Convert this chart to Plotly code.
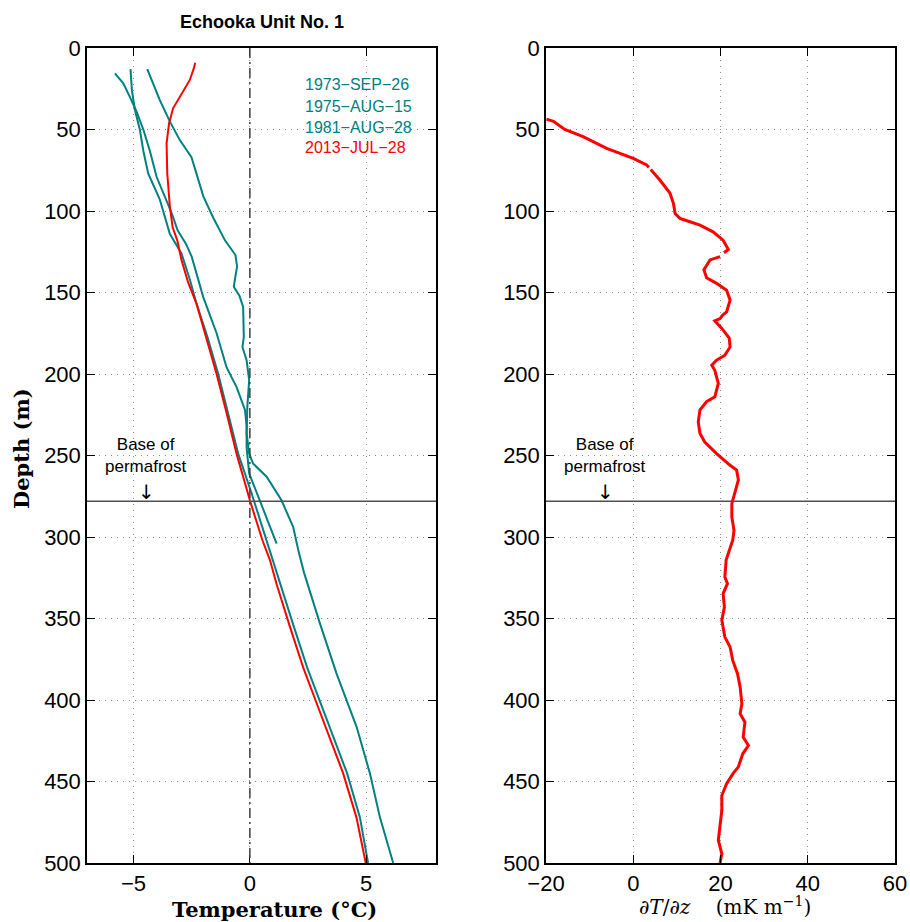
import plotly.graph_objects as go

# ---- temperature profiles, Echooka Unit No. 1 (depth in m, temperature in deg C) ----
depth_1973 = [13, 19.6, 32, 45, 56.5, 67, 77, 91, 104, 118, 127, 134, 140, 146.5, 152, 158.8, 177.2,
              183.4, 191.5, 203.8, 220.2, 236.5, 248.8, 255, 263, 277.5, 293.8, 308, 322, 353, 384,
              416.6, 445, 472, 500]
temp_1973 = [-4.41, -4.23, -3.87, -3.44, -3.01, -2.51, -2.29, -2.0, -1.58, -1.07, -0.62, -0.55, -0.62,
             -0.69, -0.45, -0.29, -0.26, -0.32, -0.14, -0.03, -0.11, -0.14, -0.03, 0.14, 0.72, 1.36,
             1.86, 2.08, 2.33, 3.01, 3.73, 4.59, 5.16, 5.59, 6.16]

depth_1975 = [15.5, 21.7, 30, 39, 50, 63, 79, 101, 112, 120, 128, 138, 153, 175, 196, 208, 222, 232,
              245, 261, 273, 288, 304]
temp_1975 = [-5.80, -5.44, -5.16, -4.87, -4.58, -4.30, -4.01, -3.37, -3.10, -2.75, -2.50, -2.29, -2.0,
             -1.43, -1.0, -0.57, -0.21, -0.14, -0.14, -0.03, 0.29, 0.72, 1.15]

depth_1981 = [13, 26, 38, 50, 63, 77, 93, 114, 126, 142, 157, 177, 200, 224, 249, 273, 298, 329, 355,
              380, 402, 423, 445, 472, 500]
temp_1981 = [-5.13, -5.07, -4.94, -4.73, -4.58, -4.37, -3.87, -3.44, -2.94, -2.58, -2.29, -1.83, -1.36,
             -0.93, -0.50, 0.07, 0.62, 1.32, 1.89, 2.46, 3.04, 3.61, 4.18, 4.73, 5.08]

depth_2013 = [9, 12.5, 19.6, 30, 37, 46, 58.5, 77, 97, 110, 118, 130, 144, 157, 179, 200, 224, 249,
              277.5, 302, 314, 329, 355, 380, 402, 423, 445, 472, 500]
temp_2013 = [-2.35, -2.41, -2.58, -3.01, -3.30, -3.47, -3.58, -3.55, -3.44, -3.32, -3.12, -2.94, -2.65,
             -2.29, -1.86, -1.43, -1.0, -0.57, 0.0, 0.54, 0.86, 1.15, 1.72, 2.29, 2.87, 3.44, 4.01,
             4.58, 4.98]

# ---- 2013 temperature gradient (mK/m); None marks short gaps in the log ----
grad_depth = [43.6, 45, 50, 54.4, 61.6, 67.7, 71.8, 73.2, None, 74.6, 76, 81, 89, 95.3, 101.5, 104.5,
              106.6, 108.7, 112.8, 117.9, 123.6, 125.6, None, 128, 130, 136, 141, 144.4, 148.6, 154.7,
              161.9, 163.9, 166, 167.4, 172, 178, 183.4, 188.5, 191.5, 194.6, 197.7, 205.8, 214, 217,
              222, 229.4, 236.5, 241.7, 248.8, 256, 259, 265, 273.4, 279.5, 287.7, 296, 302, 308, 314,
              324.6, 328.6, 334.7, 343, 351, 361.4, 367.5, 375.7, 383.9, 392, 402.3, 408.4, 413.6,
              422.8, 427.9, 433, 441, 445, 451.4, 458.6, 467.8, 476, 486, 494.4, 500]
grad_value = [-19.9, -18.3, -15.7, -11.5, -6.1, 0, 3.07, 3.6, None, 4.0, 4.5, 6.1, 8.4, 9.2, 9.6, 10.7,
              13.0, 15.3, 18.3, 20.6, 21.8, 20.8, None, 19.9, 17.6, 16.2, 16.8, 19.1, 21.4, 22.2,
              21.4, 20.5, 19.9, 18.7, 20.3, 22.0, 22.2, 21.0, 19.1, 18.0, 18.7, 19.5, 18.7, 16.8,
              15.3, 14.9, 15.3, 16.4, 19.1, 22.2, 23.7, 24.1, 23.3, 22.6, 22.6, 23.1, 22.8, 22.0, 21.3,
              21.0, 21.6, 20.6, 20.9, 20.3, 21.0, 22.2, 22.8, 23.9, 24.5, 24.9, 24.5, 25.6,
              25.2, 26.4, 25.1, 24.1, 22.9, 21.4, 20.3, 20.3, 20.0, 19.5, 20.3, 19.9]

legend_labels = ["1973\u2212SEP\u221226", "1975\u2212AUG\u221215", "1981\u2212AUG\u221228", "2013\u2212JUL\u221228"]
permafrost_base = 278
depth_ticks = list(range(0, 501, 50))
temp_ticks = [-5, 0, 5]
grad_ticks = [-20, 0, 20, 40, 60]

TEAL = "#008080"
RED = "#ff0000"
W, H = 910, 922
SANS = "Liberation Sans, Arial, sans-serif"

fig = go.Figure()
for d, t, c in [(depth_1973, temp_1973, TEAL), (depth_1975, temp_1975, TEAL),
                (depth_1981, temp_1981, TEAL), (depth_2013, temp_2013, RED)]:
    fig.add_trace(go.Scatter(x=t, y=d, mode="lines", line=dict(color=c, width=2),
                             xaxis="x", yaxis="y", showlegend=False, hoverinfo="skip"))
fig.add_trace(go.Scatter(x=grad_value, y=grad_depth, mode="lines", connectgaps=False,
                         line=dict(color=RED, width=3), xaxis="x2", yaxis="y2",
                         showlegend=False, hoverinfo="skip"))

tickfont = dict(family=SANS, size=22, color="black")
ydom = [(H - 863) / H, (H - 48) / H]
common_ax = dict(showline=True, linecolor="black", linewidth=1.5, mirror="ticks", ticks="inside",
                 ticklen=8, tickwidth=1, tickcolor="black", showgrid=True, gridcolor="#8c8c8c",
                 gridwidth=1, griddash="1px,5px", zeroline=False, tickfont=tickfont, automargin=False)

fig.update_layout(
    width=W, height=H, margin=dict(l=0, r=0, t=0, b=0),
    paper_bgcolor="white", plot_bgcolor="white",
    xaxis=dict(domain=[87 / W, 436 / W], range=[-7, 8], tickvals=temp_ticks, anchor="y", **common_ax),
    yaxis=dict(domain=ydom, range=[500, 0], tickvals=depth_ticks, anchor="x", **common_ax),
    xaxis2=dict(domain=[546 / W, 895 / W], range=[-20, 60], tickvals=grad_ticks, anchor="y2", **common_ax),
    yaxis2=dict(domain=ydom, range=[500, 0], tickvals=depth_ticks, anchor="x2", **common_ax),
)

shapes = [
    dict(type="line", xref="x", yref="y", x0=0, x1=0, y0=0, y1=500,
         line=dict(color="#404040", width=1.5, dash="10px,4px,2px,4px")),
    dict(type="line", xref="x domain", yref="y", x0=0, x1=1, y0=permafrost_base, y1=permafrost_base,
         line=dict(color="#505050", width=1.5)),
    dict(type="line", xref="x2 domain", yref="y2", x0=0, x1=1, y0=permafrost_base, y1=permafrost_base,
         line=dict(color="#505050", width=1.5)),
]
fig.update_layout(shapes=shapes)

ann = []
ann.append(dict(text="<b>Echooka Unit No. 1</b>", xref="paper", yref="paper", x=262 / W, y=(H - 22) / H,
                showarrow=False, xanchor="center", yanchor="middle",
                font=dict(family=SANS, size=18, color="black")))
for i, lab in enumerate(legend_labels):
    ann.append(dict(text=lab, xref="x", yref="y", x=2.29, y=[22.7, 36.0, 48.7, 61.0][i],
                    showarrow=False, xanchor="left", yanchor="middle",
                    font=dict(family=SANS, size=16, color=RED if i == 3 else TEAL)))
for xr, yr, xv in [("x", "y", -4.45), ("x2", "y2", -6.4)]:
    ann.append(dict(text="Base of<br>permafrost", xref=xr, yref=yr, x=xv, y=250,
                    showarrow=False, xanchor="center", yanchor="middle", align="center",
                    font=dict(family=SANS, size=17, color="black")))
    ann.append(dict(text="\u2193", xref=xr, yref=yr, x=xv, y=272.5,
                    showarrow=False, xanchor="center", yanchor="middle",
                    font=dict(family="DejaVu Sans, sans-serif", size=20, color="black")))
ann.append(dict(text="<b>Temperature (°C)</b>", xref="paper", yref="paper", x=274 / W, y=(H - 909) / H,
                showarrow=False, xanchor="center", yanchor="middle",
                font=dict(family="DejaVu Serif, Liberation Serif, serif", size=21, color="black")))
ann.append(dict(text="<b>Depth (m)</b>", xref="paper", yref="paper", x=21 / W, y=(H - 449) / H,
                showarrow=False, xanchor="center", yanchor="middle", textangle=-90,
                font=dict(family="DejaVu Serif, Liberation Serif, serif", size=21, color="black")))
ann.append(dict(text="\u2202<i>T</i>/\u2202<i>z</i>    (mK m<sup>\u22121</sup>)", xref="paper", yref="paper",
                x=725 / W, y=(H - 906) / H, showarrow=False, xanchor="center", yanchor="middle",
                font=dict(family="DejaVu Serif, serif", size=20, color="black")))
fig.update_layout(annotations=ann)

fig.write_html("out.html")
